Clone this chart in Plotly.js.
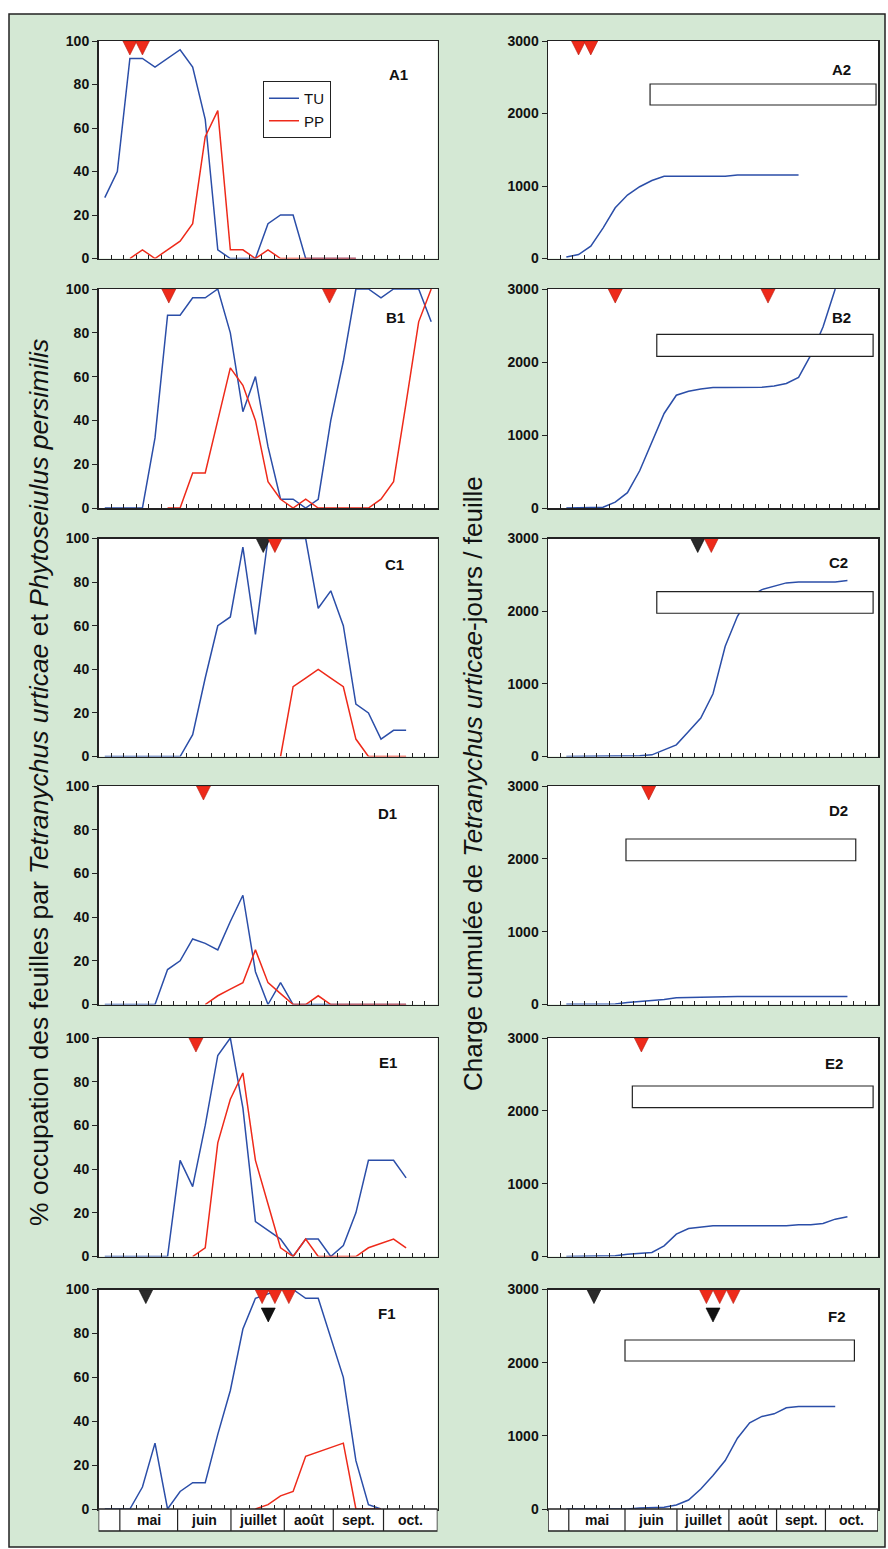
<!DOCTYPE html>
<html>
<head>
<meta charset="utf-8">
<script src="https://cdn.plot.ly/plotly-3.0.1.min.js"></script>
<style>
  html, body { margin: 0; padding: 0; background: #ffffff; }
  #chart { width: 888px; height: 1549px; }
</style>
</head>
<body>
<div id="chart"></div>
<script>
// ---------------- DATA ----------------
// weekly sampling dates (category index 0..26), month labels of the date axis
const months = ['', 'mai', 'juin', 'juillet', 'août', 'sept.', 'oct.'];
const monthBounds = [-0.5, 1.2, 5.8, 10.05, 14.3, 18.2, 22.2, 26.5];

// % leaf occupation : TU = Tetranychus urticae, PP = Phytoseiulus persimilis
const A1_TU = [28, 40, 92, 92, 88, 92, 96, 88, 64, 4, 0, 0, 0, 16, 20, 20, 0, 0, 0, 0, 0];
const A1_PP = [null, null, 0, 4, 0, 4, 8, 16, 56, 68, 4, 4, 0, 4, 0, 0, 0, 0, 0, 0, 0];
const B1_TU = [0, 0, 0, 0, 32, 88, 88, 96, 96, 100, 80, 44, 60, 28, 4, 4, 0, 4, 40, 67, 100, 100, 96, 100, 100, 100, 85];
const B1_PP = [null, null, null, null, null, 0, 0, 16, 16, 40, 64, 56, 40, 12, 4, 0, 4, 0, 0, 0, 0, 0, 4, 12, 48, 85, 100];
const C1_TU = [0, 0, 0, 0, 0, 0, 0, 10, 36, 60, 64, 96, 56, 100, 100, 100, 100, 68, 76, 60, 24, 20, 8, 12, 12];
const C1_PP = [null, null, null, null, null, null, null, null, null, null, null, null, null, null, 0, 32, 36, 40, 36, 32, 8, 0, 0, 0, 0];
const D1_TU = [0, 0, 0, 0, 0, 16, 20, 30, 28, 25, 38, 50, 15, 0, 10, 0, 0, 0, 0, 0, 0, 0, 0, 0, 0];
const D1_PP = [null, null, null, null, null, null, null, null, 0, 4, 7, 10, 25, 10, 5, 0, 0, 4, 0, 0, 0, 0, 0, 0, 0];
const E1_TU = [0, 0, 0, 0, 0, 0, 44, 32, 60, 92, 100, 68, 16, 12, 8, 0, 8, 8, 0, 5, 20, 44, 44, 44, 36];
const E1_PP = [null, null, null, null, null, null, null, 0, 4, 52, 72, 84, 44, 24, 4, 0, 8, 0, 0, 0, 0, 4, 6, 8, 4];
const F1_TU = [0, 0, 0, 10, 30, 0, 8, 12, 12, 34, 54, 82, 96, 98, 100, 100, 96, 96, 78, 60, 22, 2, 0];
const F1_PP = [null, null, null, null, null, null, null, null, null, null, null, null, 0, 2, 6, 8, 24, 26, 28, 30, 0, 0, 0];

// cumulative T. urticae-days per leaf
const A2_CH = [null, 20, 55, 170, 420, 700, 875, 990, 1075, 1135, 1135, 1135, 1135, 1135, 1135, 1150, 1150, 1150, 1150, 1150, 1150];
const B2_CH = [null, 0, 0, 0, 10, 80, 210, 510, 900, 1295, 1545, 1600, 1630, 1650, 1650, 1650, 1650, 1655, 1670, 1705, 1790, 2095, 2480, 3000];
const C2_CH = [null, 0, 0, 0, 0, 0, 0, 10, 23, 92, 160, 345, 528, 864, 1516, 1930, 2200, 2297, 2343, 2389, 2403, 2403, 2403, 2403, 2421];
const D2_CH = [null, 5, 5, 5, 5, 8, 27, 41, 46, 68, 91, 96, 100, 110, 110, 110, 110, 110, 110, 110, 110, 110, 110, 110, 110];
const E2_CH = [null, 0, 5, 5, 5, 10, 32, 41, 55, 147, 307, 385, 408, 421, 421, 421, 421, 421, 421, 421, 435, 435, 453, 513, 545];
const F2_CH = [null, 0, 0, 0, 0, 0, 0, 14, 23, 23, 55, 123, 274, 457, 662, 968, 1178, 1265, 1301, 1384, 1402, 1402, 1402, 1402];

// treatment dates (category position) : red and black markers
const A1_red = [2, 3],            A1_black = [],   A1_blackLow = [];
const B1_red = [5.1, 17.9],       B1_black = [],   B1_blackLow = [];
const C1_red = [13.55],           C1_black = [12.62], C1_blackLow = [];
const D1_red = [7.86],            D1_black = [],   D1_blackLow = [];
const E1_red = [7.26],            E1_black = [],   E1_blackLow = [];
const F1_red = [12.53, 13.55, 14.66], F1_black = [3.27], F1_blackLow = [13.02];
const A2_red = [2, 3],            A2_black = [],   A2_blackLow = [];
const B2_red = [5.0, 17.5],       B2_black = [],   B2_blackLow = [];
const C2_red = [12.86],           C2_black = [11.75], C2_blackLow = [];
const D2_red = [7.74],            D2_black = [],   D2_blackLow = [];
const E2_red = [7.14],            E2_black = [],   E2_blackLow = [];
const F2_red = [12.46, 13.55, 14.66], F2_black = [3.26], F2_blackLow = [13.0];

// ---------------- LAYOUT / STYLE ----------------
const W = 888, H = 1549;
const px = v => v / W;
const py = v => 1 - v / H;
const FONT = 'Liberation Sans, Arial, Helvetica, sans-serif';
const BLUE = '#2b4ea8', RED = '#ee2a1a', DARK = '#222222';
const colX = [[98.5, 437.5], [548, 878]];
const rowY = [[41, 258.5], [289, 508], [538.5, 756.5], [786, 1004.5], [1038, 1256.5], [1289.5, 1509]];

const panels = [
  {name: 'A1', tu: A1_TU, pp: A1_PP, red: A1_red, black: A1_black, blackLow: A1_blackLow, lab: [398, 74]},
  {name: 'A2', ch: A2_CH, red: A2_red, black: A2_black, blackLow: A2_blackLow, lab: [841, 69], box: [7.85, 26.34, 2117, 2407]},
  {name: 'B1', tu: B1_TU, pp: B1_PP, red: B1_red, black: B1_black, blackLow: B1_blackLow, lab: [395, 317]},
  {name: 'B2', ch: B2_CH, red: B2_red, black: B2_black, blackLow: B2_blackLow, lab: [841, 317], box: [8.4, 26.1, 2078, 2379]},
  {name: 'C1', tu: C1_TU, pp: C1_PP, red: C1_red, black: C1_black, blackLow: C1_blackLow, lab: [394, 564]},
  {name: 'C2', ch: C2_CH, red: C2_red, black: C2_black, blackLow: C2_blackLow, lab: [838, 563], box: [8.4, 26.1, 1971, 2268]},
  {name: 'D1', tu: D1_TU, pp: D1_PP, red: D1_red, black: D1_black, blackLow: D1_blackLow, lab: [387, 814]},
  {name: 'D2', ch: D2_CH, red: D2_red, black: D2_black, blackLow: D2_blackLow, lab: [838, 810], box: [5.88, 24.68, 1974, 2272]},
  {name: 'E1', tu: E1_TU, pp: E1_PP, red: E1_red, black: E1_black, blackLow: E1_blackLow, lab: [388, 1062]},
  {name: 'E2', ch: E2_CH, red: E2_red, black: E2_black, blackLow: E2_blackLow, lab: [834, 1063], box: [6.4, 26.1, 2043, 2341]},
  {name: 'F1', tu: F1_TU, pp: F1_PP, red: F1_red, black: F1_black, blackLow: F1_blackLow, lab: [387, 1313]},
  {name: 'F2', ch: F2_CH, red: F2_red, black: F2_black, blackLow: F2_blackLow, lab: [837, 1316], box: [5.8, 24.57, 2023, 2310]}
];

const idx = arr => arr.map((_, i) => i);
const innerTicks = [];
for (let k = 1; k < 27; k++) innerTicks.push(k - 0.5);

const traces = [];
const layout = {
  width: W, height: H,
  margin: {l: 0, r: 0, t: 0, b: 0},
  paper_bgcolor: '#ffffff',
  plot_bgcolor: '#ffffff',
  font: {family: FONT, color: '#111'},
  showlegend: true,
  legend: {
    x: px(263), y: py(81), xanchor: 'left', yanchor: 'top',
    bgcolor: '#ffffff', bordercolor: DARK, borderwidth: 1,
    font: {family: FONT, size: 15, color: '#111'},
    tracegroupgap: 0, itemwidth: 30
  },
  shapes: [],
  annotations: []
};

// green frame
layout.shapes.push({
  type: 'rect', xref: 'paper', yref: 'paper', layer: 'below',
  x0: px(9), x1: px(885), y0: py(1547), y1: py(14),
  fillcolor: '#d4e8d4', line: {color: DARK, width: 1.5}
});

panels.forEach((p, k) => {
  const col = k % 2, row = Math.floor(k / 2);
  const n = k + 1;
  const xa = n === 1 ? 'x' : 'x' + n;
  const ya = n === 1 ? 'y' : 'y' + n;
  const left = col === 0;
  const ymax = left ? 100 : 3000;

  // white plot area on top of the green frame
  layout.shapes.push({
    type: 'rect', xref: 'paper', yref: 'paper', layer: 'below',
    x0: px(colX[col][0]), x1: px(colX[col][1]), y0: py(rowY[row][1]), y1: py(rowY[row][0]),
    fillcolor: '#ffffff', line: {width: 0}
  });

  layout['xaxis' + (n === 1 ? '' : n)] = {
    domain: [px(colX[col][0]), px(colX[col][1])],
    anchor: ya, range: [-0.5, 26.5], fixedrange: true,
    showgrid: false, zeroline: false,
    showline: true, mirror: true, linecolor: DARK, linewidth: 1.5,
    tickmode: 'array', tickvals: innerTicks, ticks: 'inside', ticklen: 4,
    tickwidth: 1, tickcolor: DARK, showticklabels: false
  };
  layout['yaxis' + (n === 1 ? '' : n)] = {
    domain: [py(rowY[row][1]), py(rowY[row][0])],
    anchor: xa, range: [0, ymax], fixedrange: true,
    showgrid: false, zeroline: false,
    showline: true, mirror: true, linecolor: DARK, linewidth: 1.5,
    tickmode: 'linear', tick0: 0, dtick: left ? 20 : 1000,
    ticks: 'outside', ticklen: 5, tickwidth: 1, tickcolor: DARK,
    tickfont: {family: FONT, size: 14, weight: 'bold', color: '#111'}
  };

  if (left) {
    traces.push({type: 'scatter', mode: 'lines', name: 'TU', x: idx(p.tu), y: p.tu,
      xaxis: xa, yaxis: ya, line: {color: BLUE, width: 1.5}, showlegend: k === 0, hoverinfo: 'skip'});
    traces.push({type: 'scatter', mode: 'lines', name: 'PP', x: idx(p.pp), y: p.pp,
      xaxis: xa, yaxis: ya, line: {color: RED, width: 1.5}, showlegend: k === 0, hoverinfo: 'skip'});
  } else {
    traces.push({type: 'scatter', mode: 'lines', name: 'charge', x: idx(p.ch), y: p.ch,
      xaxis: xa, yaxis: ya, line: {color: BLUE, width: 1.5}, showlegend: false, hoverinfo: 'skip'});
  }

  const tipY = ymax * (1 - 14 / 218);
  const lowY = ymax * (1 - 32.5 / 219.5);
  const mk = (xs, yv, color) => {
    if (!xs.length) return;
    traces.push({type: 'scatter', mode: 'markers', x: xs, y: xs.map(() => yv),
      xaxis: xa, yaxis: ya, showlegend: false, hoverinfo: 'skip', cliponaxis: false,
      marker: {symbol: 'arrow-down', size: 14, color: color,
        line: {color: color === RED ? '#b01c10' : '#000', width: 0.6}}});
  };
  mk(p.black, tipY, '#2a2a2a');
  mk(p.red, tipY, RED);
  mk(p.blackLow, lowY, '#111111');

  // empty white box of the right panels
  if (p.box) {
    layout.shapes.push({type: 'rect', xref: xa, yref: ya, layer: 'above',
      x0: p.box[0], x1: p.box[1], y0: p.box[2], y1: p.box[3],
      fillcolor: '#ffffff', line: {color: DARK, width: 1.2}});
  }

  // panel label
  layout.annotations.push({xref: 'paper', yref: 'paper', x: px(p.lab[0]), y: py(p.lab[1]),
    text: p.name, showarrow: false, xanchor: 'center', yanchor: 'middle',
    font: {family: FONT, size: 15, weight: 'bold', color: '#111'}});

  // month axis under the bottom panels
  if (row === 5) {
    layout.shapes.push({type: 'rect', xref: xa, yref: 'paper',
      x0: monthBounds[0], x1: monthBounds[monthBounds.length - 1],
      y0: py(1531), y1: py(1509), fillcolor: '#ffffff', line: {color: DARK, width: 1.5}});
    for (let i = 1; i < monthBounds.length - 1; i++) {
      layout.shapes.push({type: 'line', xref: xa, yref: 'paper',
        x0: monthBounds[i], x1: monthBounds[i], y0: py(1531), y1: py(1509),
        line: {color: DARK, width: 1.2}});
    }
    months.forEach((m, i) => {
      if (!m) return;
      layout.annotations.push({xref: xa, yref: 'paper',
        x: (monthBounds[i] + monthBounds[i + 1]) / 2, y: py(1520),
        text: m, showarrow: false, xanchor: 'center', yanchor: 'middle',
        font: {family: FONT, size: 14, weight: 'bold', color: '#111'}});
    });
  }
});

// axis titles
layout.annotations.push({xref: 'paper', yref: 'paper', x: px(39), y: py(783),
  text: '% occupation des feuilles par <i>Tetranychus urticae</i> et <i>Phytoseiulus persimilis</i>',
  textangle: -90, showarrow: false, xanchor: 'center', yanchor: 'middle',
  font: {family: FONT, size: 26.5, color: '#111'}});
layout.annotations.push({xref: 'paper', yref: 'paper', x: px(473), y: py(784),
  text: 'Charge cumulée de <i>Tetranychus urticae</i>-jours / feuille',
  textangle: -90, showarrow: false, xanchor: 'center', yanchor: 'middle',
  font: {family: FONT, size: 26, color: '#111'}});

Plotly.newPlot('chart', traces, layout, {staticPlot: true, displayModeBar: false});
</script>
</body>
</html>
